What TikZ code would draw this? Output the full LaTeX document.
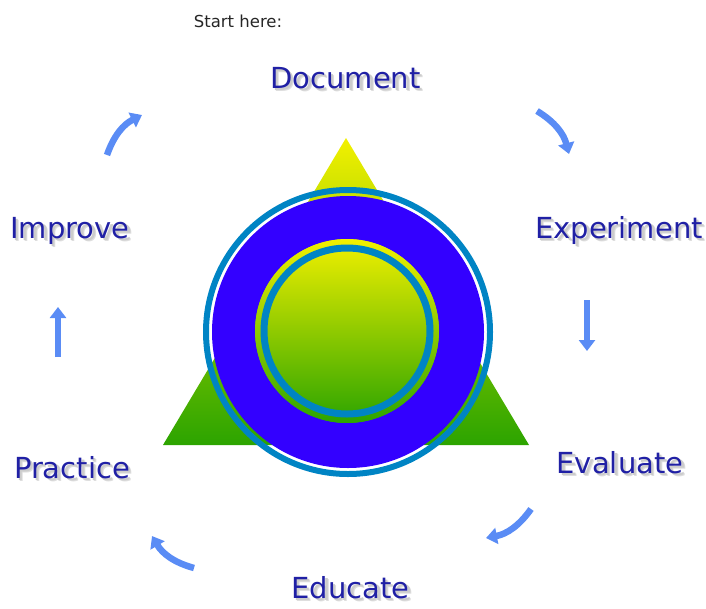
\documentclass[tikz,border=0pt]{standalone}
\usepackage{fontspec}
\newfontfamily\labfont{DejaVu Sans}
\usetikzlibrary{arrows.meta}
\definecolor{labblue}{RGB}{32,32,165}
\definecolor{arrblue}{RGB}{90,140,245}
\definecolor{ringteal}{RGB}{0,132,196}
\definecolor{ringblue}{RGB}{51,0,255}
\definecolor{topyel}{RGB}{242,240,0}
\definecolor{botgrn}{RGB}{44,164,0}
\newcommand{\shadowed}[1]{\makebox[0pt][l]{\hspace{3.5pt}\raisebox{-3.5pt}{\textcolor{black!13}{#1}}}\makebox[0pt][l]{\hspace{2.5pt}\raisebox{-2.5pt}{\textcolor{black!20}{#1}}}#1}
\tikzset{
  lab/.style={font=\labfont\fontsize{29}{34}\selectfont, text=labblue, inner sep=0pt, anchor=base},
  starttext/.style={font=\labfont\fontsize{16.5}{19}\selectfont, text=black!85, inner sep=0pt, anchor=base},
  cyc/.style={draw=arrblue, line width=6.5pt, -{Triangle[width=16pt,length=11pt]}},
}
\begin{document}
\begin{tikzpicture}[x=1pt,y=1pt]
\useasboundingbox (0,0) rectangle (706,-608);
% triangle
\coordinate (apex) at (346,-138);
\coordinate (bl) at (163,-445);
\coordinate (br) at (529,-445);
\shade[top color=topyel, bottom color=botgrn] (apex) -- (br) -- (bl) -- cycle;
% rings
\coordinate (c) at (348,-332);
\draw[ringteal, line width=6pt] (c) circle[radius=142];
\fill[ringblue, even odd rule] (c) circle[radius=136] (347,-331) circle[radius=92];
\shade[top color=topyel, bottom color=botgrn] (347,-331) circle[radius=92];
\draw[ringteal, line width=7pt] (347,-331) circle[radius=83];
% texts
\node[starttext] (start) at (238,-27) {Start here:};
\node[lab] (doc) at (345.5,-88) {\shadowed{Document}};
\node[lab] (exp) at (619,-238) {\shadowed{Experiment}};
\node[lab] (eva) at (620,-473) {\shadowed{Evaluate}};
\node[lab] (edu) at (350.5,-598) {\shadowed{Educate}};
\node[lab] (pra) at (72,-478) {\shadowed{Practice}};
\node[lab] (imp) at (70,-238) {\shadowed{Improve}};
% arrows
\coordinate (a1s) at (107,-155);
\coordinate (a1e) at (142,-115);
\coordinate (a2s) at (537,-111);
\coordinate (a2e) at (569,-154);
\coordinate (a3s) at (587,-300);
\coordinate (a3e) at (587,-351);
\coordinate (a4s) at (531,-509);
\coordinate (a4e) at (486,-538);
\coordinate (a5s) at (194,-568);
\coordinate (a5e) at (152,-536);
\coordinate (a6s) at (58,-357);
\coordinate (a6e) at (58,-307);
\draw[cyc] (a1s) to[bend left=22] (a1e);
\draw[cyc] (a2s) to[bend left=22] (a2e);
\draw[cyc] (a3s) -- (a3e);
\draw[cyc] (a4s) to[bend left=22] (a4e);
\draw[cyc] (a5s) to[bend left=22] (a5e);
\draw[cyc] (a6s) -- (a6e);
\end{tikzpicture}
\end{document}
